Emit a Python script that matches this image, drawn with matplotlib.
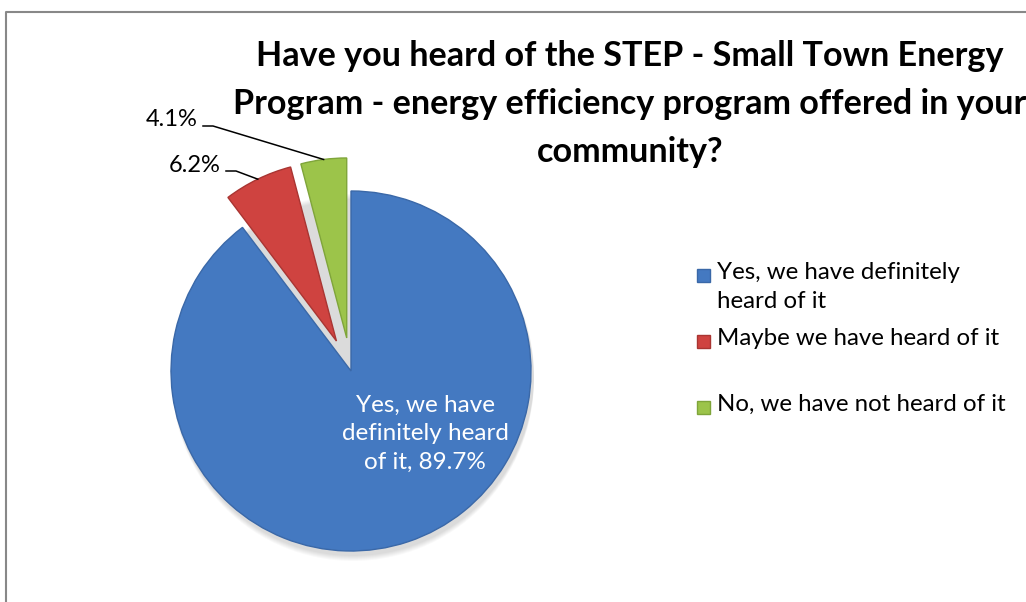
import numpy as np
import matplotlib.pyplot as plt
from matplotlib.patches import Rectangle

# survey answers (percent)
categories = ['Yes, we have definitely heard of it',
              'Maybe we have heard of it',
              'No, we have not heard of it']
legend_labels = ['Yes, we have definitely\nheard of it',
                 'Maybe we have heard of it',
                 'No, we have not heard of it']
shares = [89.7, 6.2, 4.1]
colors = ['#4479c1', '#cf4340', '#9cc44a']
edge_colors = ['#3a68a8', '#a93532', '#7fa53a']

title = ('Have you heard of the STEP - Small Town Energy\n'
         'Program - energy efficiency program offered in your\n'
         'community?')

plt.rcParams['font.family'] = ['Lato', 'DejaVu Sans']

W, H = 1026, 602
fig = plt.figure(figsize=(W / 100, H / 100), dpi=100)
ax = fig.add_axes([0, 0, 1, 1])

# pie geometry in pixel units (y measured upward)
cx, cy, R = 351, H - 371, 180
expl = 0.185 * R

# soft shadow under the pie
for k in range(6):
    ax.add_patch(plt.Circle((cx + 2, cy - 4 - k), R + 1, color='#000000',
                            alpha=0.025, lw=0, zorder=0))

wedges, _ = ax.pie(shares, colors=colors, startangle=90, counterclock=False,
                   center=(cx, cy), radius=R, explode=[0, expl, expl],
                   wedgeprops=dict(lw=1.0))
for w, ec in zip(wedges, edge_colors):
    w.set_edgecolor(ec)
    w.set_zorder(2)

# label inside the big slice
ax.text(425, H - 434, f'Yes, we have\ndefinitely heard\nof it, {shares[0]}%',
        color='white', fontsize=17.5, ha='center', va='center',
        linespacing=1.45, zorder=3)

# outside labels with leader lines, anchored on the outer arc of each wedge
label_pos = {1: (195, 165), 2: (172, 120)}
for i, (lx, ly) in label_pos.items():
    w = wedges[i]
    tm = np.deg2rad((w.theta1 + w.theta2) / 2)
    ax_, ay_ = w.center[0] + R * np.cos(tm), w.center[1] + R * np.sin(tm)
    ax.text(lx, H - ly, f'{shares[i]}%', fontsize=17, ha='center',
            va='center', zorder=3)
    x0 = lx + 31
    ax.plot([x0, x0 + 10, ax_], [H - ly - 6, H - ly - 6, ay_],
            color='black', lw=1.1, zorder=3)

# title
ax.text(630, H - 104, title, fontsize=24.6, fontweight='bold',
        ha='center', va='center', linespacing=1.62, zorder=3)

# legend
leg_y = [275, 341, 407]
for lab, col, ec, y in zip(legend_labels, colors, edge_colors, leg_y):
    ax.add_patch(Rectangle((697, H - y - 6.5), 13, 13, facecolor=col,
                           edgecolor=ec, lw=1, zorder=3))
    ax.text(717, H - y + 13, lab, fontsize=17.3, ha='left', va='top',
            linespacing=1.45, zorder=3)

# chart border (only top and left visible in the crop)
ax.plot([5.5, 5.5, W], [0, H - 11.5, H - 11.5], color='#888888', lw=1.5,
        zorder=4)

ax.set_xlim(0, W)
ax.set_ylim(0, H)
ax.set_aspect('auto')
ax.axis('off')

fig.savefig('out.png', dpi=100)
